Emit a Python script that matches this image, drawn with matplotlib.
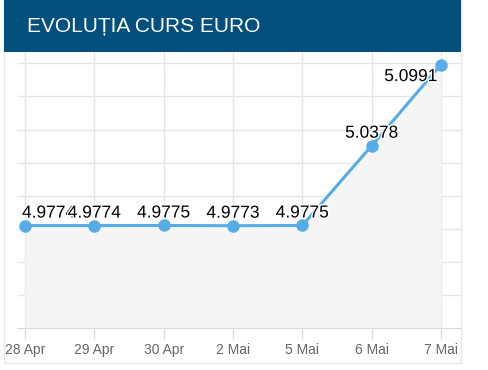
import matplotlib
matplotlib.use('Agg')
import matplotlib.pyplot as plt
import matplotlib.patheffects as pe
from matplotlib.patches import Rectangle

# Data
dates = ['28 Apr', '29 Apr', '30 Apr', '2 Mai', '5 Mai', '6 Mai', '7 Mai']
rates = [4.9774, 4.9774, 4.9775, 4.9773, 4.9775, 5.0378, 5.0991]
labels = ['4.9774', '4.9774', '4.9775', '4.9773', '4.9775', '5.0378', '5.0991']
title = 'EVOLUȚIA CURS EURO'

W, H = 489, 370
fig = plt.figure(figsize=(W / 100, H / 100), dpi=100)
fig.patch.set_facecolor('white')

def fx(px):
    return px / W

def fy(py):
    return 1 - py / H

# card border and title banner
fig.patches.append(Rectangle((fx(4), fy(363)), fx(461) - fx(4), fy(0) - fy(363),
                             transform=fig.transFigure, facecolor='white',
                             edgecolor='#e8e8e8', lw=1, zorder=0))
fig.patches.append(Rectangle((fx(4), fy(52)), fx(461) - fx(4), fy(0) - fy(52),
                             transform=fig.transFigure, facecolor='#03507f',
                             edgecolor='none', zorder=1))
fig.text(fx(27), fy(26), title, color='white', fontsize=15,
         family='Liberation Sans', va='center', ha='left', zorder=2)

# plot area
ax = fig.add_axes([fx(17), fy(328), fx(461) - fx(17), fy(52) - fy(328)])
ax.set_zorder(3)
ax.set_facecolor('none')
x = list(range(len(dates)))
step = (441 - 25) / 6
ax.set_xlim(-8 / step, 6 + 20 / step)
ax.set_ylim(4.9, 5.1086)

ax.fill_between(x, rates, 4.9, color='#f5f5f5', zorder=1, lw=0)
ax.plot(x, rates, color='#56ace6', lw=2.2, marker='o', ms=9,
        markeredgewidth=0, zorder=3, solid_capstyle='round', clip_on=False)

# grid
for v in [4.925, 4.95, 4.975, 5.0, 5.025, 5.05, 5.075, 5.1]:
    ax.axhline(v, color='#e6e6e6', lw=1, zorder=0)
for xi in x:
    ax.axvline(xi, color='#e6e6e6', lw=1, zorder=0)

ax.set_xticks(x)
ax.set_xticklabels(dates, family='Liberation Sans', fontsize=10, color='#666666')
ax.tick_params(axis='x', length=8, width=1, color='#dddddd', pad=3)
ax.set_yticks([])
for s in ['top', 'right', 'left']:
    ax.spines[s].set_visible(False)
ax.spines['bottom'].set_color('#d8d8d8')

# value labels (pixel offsets from each point)
offsets = [(-3, 5, 'left'), (0, 5, 'center'), (0, 5, 'center'), (0, 5, 'center'),
           (0, 5, 'center'), (0, 5, 'center'), (-30, -12, 'center')]
for xi, yi, lab, (dx, dy, ha) in zip(x, rates, labels, offsets):
    ax.annotate(lab, (xi, yi), xytext=(dx * 0.72, dy * 0.72),
                textcoords='offset points', ha=ha, va='bottom' if dy > 0 else 'center',
                fontsize=12.5, family='Liberation Sans', color='black', zorder=5,
                path_effects=[pe.withStroke(linewidth=2, foreground='white')])

fig.savefig('out.png', dpi=100)
